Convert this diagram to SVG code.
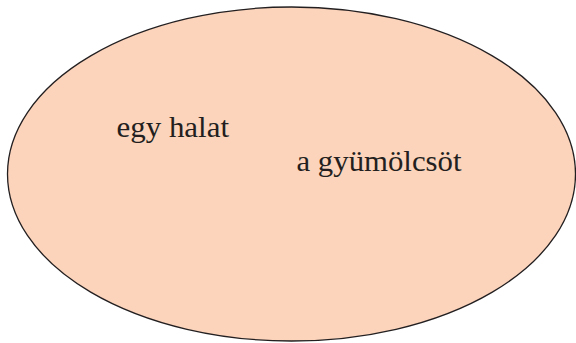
<svg xmlns="http://www.w3.org/2000/svg" width="576" height="343" viewBox="0 0 576 343">
<style>
.lbl{font-family:"Liberation Serif","Times New Roman",serif;font-size:30px;fill:#231f20}
</style>
<rect width="576" height="343" fill="#ffffff"/>
<g id="set">
<ellipse cx="291.5" cy="174" rx="284" ry="167" fill="#fcd3bb" stroke="#231f20" stroke-width="1.3"/>
</g>
<g id="item1"><text class="lbl" x="116.5" y="136.5" textLength="112.5" lengthAdjust="spacingAndGlyphs">egy halat</text></g>
<g id="item2"><text class="lbl" x="296.5" y="171" textLength="165" lengthAdjust="spacingAndGlyphs">a gyümölcsöt</text></g>
</svg>
